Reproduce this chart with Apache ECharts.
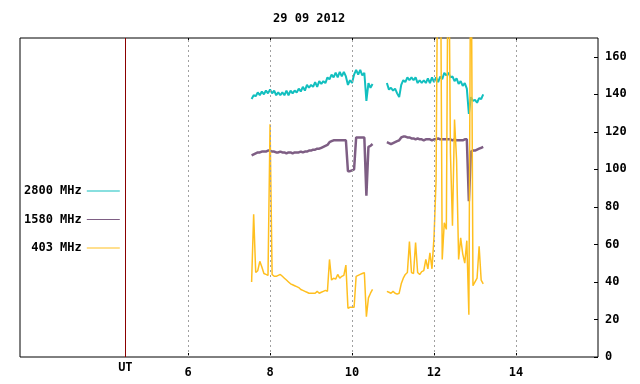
<!DOCTYPE html>
<html><head><meta charset="utf-8">
<script src="https://cdn.jsdelivr.net/npm/echarts@6/dist/echarts.min.js"></script>
<style>html,body{margin:0;padding:0;background:#fff}#c{width:640px;height:384px}</style>
</head><body><div id="c"></div>
<script>
const chartTitle = '29 09 2012';
const seriesNames = ['2800 MHz', '1580 MHz', '403 MHz'];
const seriesColors = ['#12bfbf', '#7e5e84', '#ffbf1f'];
const xTickValues = [6, 8, 10, 12, 14];
const yTickValues = [0, 20, 40, 60, 80, 100, 120, 140, 160];
const utPosition = 4.47;
const utLabel = 'UT';

const timesA = [7.55,7.60,7.65,7.70,7.75,7.80,7.85,7.90,7.95,8.00,
  8.05,8.10,8.15,8.20,8.25,8.30,8.35,8.40,8.45,8.50,
  8.55,8.60,8.65,8.70,8.75,8.80,8.85,8.90,8.95,9.00,
  9.05,9.10,9.15,9.20,9.25,9.30,9.35,9.40,9.45,9.50,
  9.55,9.60,9.65,9.70,9.75,9.80,9.85,9.90,9.95,10.00,
  10.05,10.10,10.15,10.20,10.25,10.30,10.35,10.40,10.45,10.50];
const timesB = [10.85,10.90,10.95,11.00,11.05,11.10,11.15,11.20,11.25,11.30,
  11.35,11.40,11.45,11.50,11.55,11.60,11.65,11.70,11.75,11.80,
  11.85,11.90,11.95,12.00,12.05,12.10,12.15,12.20,12.25,12.30,
  12.35,12.40,12.45,12.50,12.55,12.60,12.65,12.70,12.75,12.80,
  12.85,12.90,12.95,13.00,13.05,13.10,13.15,13.20];

const mhz2800A = [137.5,139.5,139,141,139.5,141.5,140,142,140.5,142.5,
  140.5,142,139.5,141,139.5,141,139.5,142,139.5,142,
  140.5,142,141,143,141.5,144,142,145,143.5,145,
  144,146.5,144,147,145.5,147,146,149,148,150.5,
  149,151.5,149,152,149.5,152,149.5,145,147.5,146,
  150.5,153,150.5,153,150,151.5,136.5,146,143.5,145.5];
const mhz2800B = [146,142.5,143.5,142,143,140.5,138.5,145,147.5,146.5,
  149,147.5,149,147.5,149,146,147.5,146,147.5,146,
  148.5,146,149,146.5,149,146.5,149.5,148,151.5,150,
  151.5,149,149.5,147,148.5,145.5,147,144.5,146,143,
  129.5,138.5,136.5,137,135.5,138,137.5,140];

const mhz1580A = [107.5,108,108.5,109,109,109.5,109.5,109.5,110,110,
  109.5,109.5,109,109,109.5,109,109,108.5,109,109,
  108.5,109,109,109,109.5,109,109.5,109.5,110,110,
  110.5,110.5,111,111,111.5,112,112.5,113,114.5,115,
  115.5,115.5,115.5,115.5,115.5,115.5,115.5,99,99,99.5,
  100,117,117,117,117,117,86,112,112.5,113.5];
const mhz1580B = [114.5,114,113.5,114,114.5,115,115.5,117,117.5,117.5,
  117,117,116.5,116.5,116,116.5,116,116,115.5,116,
  116,116,115.5,116,116,116.5,116,116,116,116,
  116,116,115.5,116,115.5,115.5,115.5,115.5,116,116,
  83,109.5,110,110,110.5,111,111.5,112];

const mhz403A = [40,76,45,46,51,48,44.5,44,43.5,124,
  44,43,43,43.5,44,43,42,41,40,39,
  38.5,38,37.5,37,36,35.5,35,34.5,34,34,
  34,34,35,34,34.5,35,35.5,35,52,41,
  42,41.5,44,42,43,43.5,49,26,26.5,26.5,
  26.5,43,43.5,44,44.5,45,21.5,31.5,34,36];
const mhz403B = [35,34.5,34,35,34,33.5,34,39,42,44,
  45,61.5,45,44.5,61,45,44,45.5,46,52,
  47,55.5,47,64,94,250,250,52,71.5,68,
  250,109,70,126.5,105,52,63.5,55,50,62,
  22.5,250,38,40,42,59,41,39];

function build(a, b) {
  const out = timesA.map((t, i) => [t, a[i]]);
  out.push([(timesA[timesA.length - 1] + timesB[0]) / 2, null]);
  return out.concat(timesB.map((t, i) => [t, b[i]]));
}

const font = 'DejaVu Sans Mono';
const txt = { fontFamily: font, fontSize: 12, fontWeight: 'bold', color: '#000' };
const chart = echarts.init(document.getElementById('c'), null, { renderer: 'canvas' });

const gridMarks = xTickValues.map(v => ({ xAxis: v, lineStyle: { color: '#a0a0a0', type: [2, 3], width: 1 }, label: { show: false } }));
gridMarks.push({ xAxis: utPosition, lineStyle: { color: '#8b0000', type: 'solid', width: 1 },
  label: { show: true, position: 'start', formatter: utLabel, distance: 5, ...txt } });

const widths = [2, 2.5, 1.5];
const datas = [build(mhz2800A, mhz2800B), build(mhz1580A, mhz1580B), build(mhz403A, mhz403B)];

chart.setOption({
  animation: false,
  backgroundColor: '#fff',
  title: { text: chartTitle, left: 273, top: 13, padding: 0, textStyle: { ...txt } },
  grid: { left: 20, right: 42, top: 38, bottom: 27, show: true, borderColor: '#000', borderWidth: 1, backgroundColor: 'transparent' },
  legend: {
    orient: 'vertical', left: 24, top: 184, align: 'right', padding: 0,
    itemWidth: 33, itemHeight: 1, itemGap: 14.5, icon: 'rect',
    data: seriesNames,
    formatter: n => n.padStart(8, ' '),
    textStyle: { ...txt, lineHeight: 14 }
  },
  xAxis: [{
    type: 'value', min: 1.9, max: 16, position: 'bottom',
    axisLine: { show: false },
    axisTick: { show: true, inside: true, length: 4, customValues: xTickValues, lineStyle: { color: '#000' } },
    axisLabel: { show: true, margin: 10, customValues: xTickValues, ...txt },
    splitLine: { show: false }
  }, {
    type: 'value', min: 1.9, max: 16, position: 'top',
    axisLine: { show: false },
    axisTick: { show: true, inside: true, length: 4, customValues: xTickValues, lineStyle: { color: '#000' } },
    axisLabel: { show: false },
    splitLine: { show: false }
  }],
  yAxis: {
    type: 'value', min: 0, max: 170, position: 'right',
    axisLine: { show: false },
    axisTick: { show: true, inside: true, length: 4, customValues: yTickValues, lineStyle: { color: '#000' } },
    axisLabel: { show: true, margin: 7, customValues: yTickValues, ...txt },
    splitLine: { show: false }
  },
  series: seriesNames.map((name, i) => ({
    name, type: 'line', xAxisIndex: 0, data: datas[i], symbol: 'none', showSymbol: false,
    connectNulls: false, clip: true,
    color: seriesColors[i],
    itemStyle: { color: seriesColors[i] },
    lineStyle: { color: seriesColors[i], width: widths[i] },
    markLine: i === 0 ? { silent: true, symbol: ['none', 'none'], data: gridMarks, animation: false } : undefined
  }))
});
</script></body></html>
